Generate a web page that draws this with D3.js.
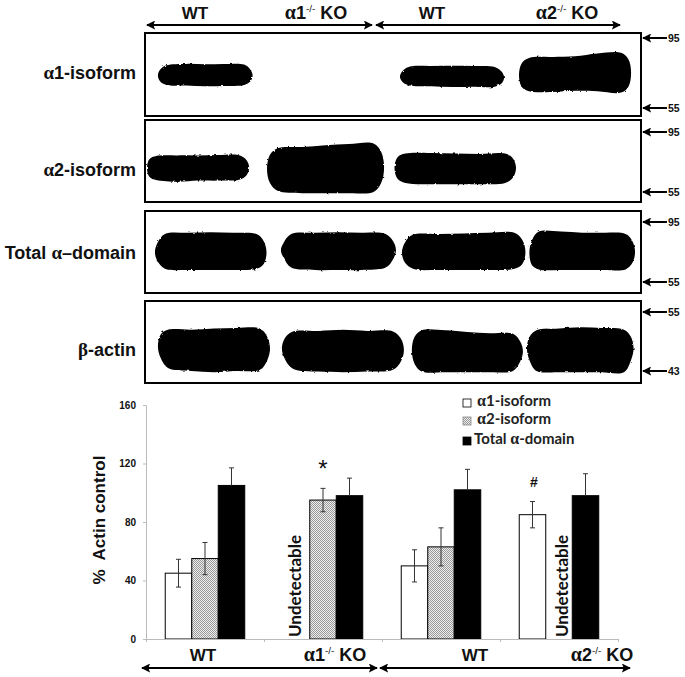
<!DOCTYPE html>
<html>
<head>
<meta charset="utf-8">
<script src="https://cdn.jsdelivr.net/npm/d3@7"></script>
<style>
body { margin: 0; background: #fff; }
svg { display: block; }
text { font-family: "Liberation Sans", Arial, sans-serif; fill: #111; }
.greek { font-family: "Liberation Serif", serif; }
</style>
</head>
<body>
<div class="chart"></div>
<script>
// bar chart values
var groups = ["WT", "a1KO", "WT2", "a2KO"];
var series = ["a1", "a2", "total"];
var seriesNames = ["1-isoform", "2-isoform", "-domain"];
var a1Values = [45, null, 50, 85];
var a2Values = [55, 95, 63, null];
var totalValues = [105, 98, 102, 98];
var a1Errors = [9.5, null, 11, 9];
var a2Errors = [11, 8, 13, null];
var totalErrors = [12, 12, 14, 15];
var yTicks = [0, 40, 80, 120, 160];

// blots: lane start/end in % of gel width, top and bottom edge as migration between the two markers
var panelNames = ["1-isoform", "2-isoform", "Total", "-actin"];
var panelMarkers = [["95", "55"], ["95", "55"], ["95", "55"], ["55", "43"]];
var panel1Blots = [
    [2.6, 21.7, [.45, .39, .37, .375, .37, .38, .45], [.62, .67, .68, .69, .685, .67, .62]],
    [51.4, 72.4, [.47, .41, .40, .395, .40, .415, .48], [.63, .68, .69, .70, .695, .695, .65]],
    [75.4, 98, [.36, .285, .27, .26, .22, .21, .30], [.70, .76, .77, .755, .76, .78, .70]]
];
var panel2Blots = [
    [0.4, 21, [.45, .40, .39, .39, .385, .39, .47], [.75, .80, .83, .81, .81, .79, .72]],
    [24.6, 48.2, [.38, .27, .25, .22, .20, .19, .33], [.85, .98, 1.02, 1.02, 1.02, 1.0, .85]],
    [50.3, 74.8, [.42, .36, .35, .36, .365, .36, .44], [.78, .85, .87, .87, .87, .85, .76]]
];
var panel3Blots = [
    [2, 24.5, [.34, .2, .18, .17, .18, .2, .32], [.66, .78, .8, .8, .8, .78, .7]],
    [27.4, 50.6, [.34, .2, .18, .17, .18, .2, .32], [.6, .76, .8, .8, .8, .76, .62]],
    [51.8, 76.7, [.34, .21, .2, .19, .18, .18, .3], [.68, .78, .8, .8, .8, .78, .7]],
    [77.5, 98.8, [.3, .16, .16, .18, .18, .2, .32], [.72, .79, .8, .8, .8, .79, .68]]
];
var panel4Blots = [
    [2.6, 25.2, [.38, .3, .3, .28, .27, .28, .42], [.78, .95, 1.0, 1.02, 1.0, .98, .82]],
    [27.6, 52.2, [.44, .33, .32, .3, .32, .33, .45], [.8, .96, 1.01, 1.02, 1.01, .98, .84]],
    [53.8, 76.2, [.42, .31, .31, .34, .36, .37, .5], [.88, 1.01, 1.02, 1.02, 1.02, 1.0, .84]],
    [77, 98.5, [.42, .31, .28, .26, .27, .3, .42], [.82, 1.0, 1.02, 1.02, 1.02, 1.02, .82]]
];

var width = 685, height = 677;
var svg = d3.select(".chart").append("svg")
    .attr("width", width)
    .attr("height", height);

var defs = svg.append("defs");

// rough film edge for the bands
var rough = defs.append("filter").attr("id", "rough")
    .attr("x", "-5%").attr("y", "-10%").attr("width", "110%").attr("height", "120%");
rough.append("feTurbulence").attr("type", "fractalNoise").attr("baseFrequency", 0.3)
    .attr("numOctaves", 2).attr("seed", 4).attr("result", "noise");
rough.append("feDisplacementMap").attr("in", "SourceGraphic").attr("in2", "noise")
    .attr("scale", 2.5).attr("result", "moved");
rough.append("feGaussianBlur").attr("in", "moved").attr("stdDeviation", 0.7);

var hatch = defs.append("pattern").attr("id", "hatch").attr("patternUnits", "userSpaceOnUse")
    .attr("width", 2).attr("height", 2);
hatch.append("rect").attr("width", 2).attr("height", 2).attr("fill", "#eee");
hatch.append("rect").attr("width", 1).attr("height", 1).attr("fill", "#999");
hatch.append("rect").attr("x", 1).attr("y", 1).attr("width", 1).attr("height", 1).attr("fill", "#999");

var arrow = defs.append("marker").attr("id", "head").attr("viewBox", "0 0 10 10")
    .attr("refX", 9).attr("refY", 5).attr("markerWidth", 9).attr("markerHeight", 9)
    .attr("markerUnits", "userSpaceOnUse").attr("orient", "auto-start-reverse");
arrow.append("path").attr("d", "M0,0L10,5L0,10L2,5Z").attr("fill", "#000");

function doubleArrow(x1, x2, y, w) {
    svg.append("line")
        .attr("x1", x1).attr("x2", x2).attr("y1", y).attr("y2", y)
        .attr("stroke", "#000").attr("stroke-width", w)
        .attr("marker-start", "url(#head)").attr("marker-end", "url(#head)");
}

// label with a serif alpha and optional knock-out superscript
function groupLabel(x, y, size, first, rest) {
    var t = svg.append("text").attr("x", x).attr("y", y).attr("text-anchor", "middle")
        .attr("font-size", size).attr("font-weight", "bold");
    if (rest) {
        t.append("tspan").attr("class", "greek").attr("font-size", size + 2).text("α");
        t.append("tspan").text(first);
        t.append("tspan").attr("font-size", size * 0.55).attr("dy", -size * 0.4).attr("font-weight", "normal").text("-/-");
        t.append("tspan").attr("dy", size * 0.4).text(" " + rest);
    } else {
        t.text(first);
    }
}

// ---- western blot panels
var gelX = d3.scaleLinear().domain([0, 100]).range([145, 641]);
var panelBoxes = [[33, 116], [120, 202], [211, 293], [301, 383]];
var markerRows = [[38, 108], [132, 192], [222, 282], [312, 371]];
var labelRows = [79, 176, 259, 356];
var allBlots = [panel1Blots, panel2Blots, panel3Blots, panel4Blots];
var stations = [.025, .09, .3, .5, .7, .91, .975];

var bandLine = d3.line().curve(d3.curveCatmullRomClosed.alpha(0.5));

allBlots.forEach(function (blots, i) {
    var migration = d3.scaleLinear().domain([0, 1]).range(markerRows[i]);
    var box = panelBoxes[i];

    blots.forEach(function (b) {
        var x = d3.scaleLinear().domain([0, 1]).range([gelX(b[0]), gelX(b[1])]);
        var pts = [[x(0), migration((b[2][0] + b[3][0]) / 2)]];
        stations.forEach(function (s, k) { pts.push([x(s), migration(b[2][k])]); });
        pts.push([x(1), migration((b[2][6] + b[3][6]) / 2)]);
        stations.slice().reverse().forEach(function (s, k) { pts.push([x(s), migration(b[3][6 - k])]); });
        svg.append("path")
            .attr("d", bandLine(pts))
            .attr("fill", "#050505")
            .attr("filter", "url(#rough)");
    });

    svg.append("rect")
        .attr("x", gelX(0)).attr("y", box[0])
        .attr("width", gelX(100) - gelX(0)).attr("height", box[1] - box[0])
        .attr("fill", "none").attr("stroke", "#000").attr("stroke-width", 2);

    // left label
    var label = svg.append("text").attr("x", 136).attr("y", labelRows[i])
        .attr("text-anchor", "end").attr("font-size", 18).attr("font-weight", "bold");
    if (i < 2) {
        label.append("tspan").attr("class", "greek").attr("font-size", 19).text("α");
        label.append("tspan").text(panelNames[i]);
    } else if (i == 2) {
        label.append("tspan").text("Total ");
        label.append("tspan").attr("class", "greek").attr("font-size", 19).text("α");
        label.append("tspan").text("–domain");
    } else {
        label.append("tspan").attr("class", "greek").attr("font-size", 19).text("β");
        label.append("tspan").text(panelNames[i]);
    }

    // size markers
    panelMarkers[i].forEach(function (m, k) {
        var y = migration(k);
        svg.append("line")
            .attr("x1", 667).attr("x2", 643).attr("y1", y).attr("y2", y)
            .attr("stroke", "#000").attr("stroke-width", 2).attr("marker-end", "url(#head)");
        svg.append("text").attr("x", 668).attr("y", y + 4)
            .attr("font-size", 10.5).attr("font-weight", "bold").text(m);
    });
});

doubleArrow(147, 372, 25, 2);
doubleArrow(376, 620, 25, 2);
groupLabel(195, 19, 17, "WT");
groupLabel(316, 19, 18, "1", "KO");
groupLabel(432, 19, 17, "WT");
groupLabel(567, 19, 18, "2", "KO");

// ---- bar chart
var y = d3.scaleLinear().domain([0, 160]).range([639, 405]);
var x0 = d3.scaleBand().domain(groups).range([146, 618]);
var x1 = d3.scaleBand().domain(series).range([0, x0.bandwidth()]).paddingInner(0).paddingOuter(0.726);
var edges = d3.scaleLinear().domain([0, groups.length]).range([146, 618]);

var seriesValues = { a1: a1Values, a2: a2Values, total: totalValues };
var seriesErrors = { a1: a1Errors, a2: a2Errors, total: totalErrors };
var seriesFill = { a1: "#fff", a2: "url(#hatch)", total: "#000" };

var rows = [];
series.forEach(function (s) {
    groups.forEach(function (g, i) {
        if (seriesValues[s][i] != null) {
            rows.push({ group: g, series: s, value: seriesValues[s][i], err: seriesErrors[s][i] });
        }
    });
});

svg.selectAll(".bar")
    .data(rows)
    .enter()
    .append("rect")
    .attr("class", "bar")
    .attr("x", function (d) { return x0(d.group) + x1(d.series); })
    .attr("y", function (d) { return y(d.value); })
    .attr("width", x1.bandwidth())
    .attr("height", function (d) { return y(0) - y(d.value); })
    .attr("fill", function (d) { return seriesFill[d.series]; })
    .attr("stroke", "#000")
    .attr("stroke-width", 1);

var errG = svg.selectAll(".err")
    .data(rows)
    .enter()
    .append("g")
    .attr("class", "err")
    .attr("stroke", "#333")
    .attr("transform", function (d) {
        return "translate(" + (x0(d.group) + x1(d.series) + x1.bandwidth() / 2) + ",0)";
    });
// black bars hide the lower whisker
function errLow(d) { return d.series == "total" ? d.value : d.value - d.err; }
errG.append("line")
    .attr("y1", function (d) { return y(d.value + d.err); })
    .attr("y2", function (d) { return y(errLow(d)); });
errG.append("line")
    .attr("x1", -2.5).attr("x2", 2.5)
    .attr("y1", function (d) { return y(d.value + d.err); })
    .attr("y2", function (d) { return y(d.value + d.err); });
errG.filter(function (d) { return d.series != "total"; })
    .append("line")
    .attr("x1", -2.5).attr("x2", 2.5)
    .attr("y1", function (d) { return y(d.value - d.err); })
    .attr("y2", function (d) { return y(d.value - d.err); });

var yAxis = svg.append("g")
    .attr("class", "y-axis")
    .attr("transform", "translate(146,0)")
    .call(d3.axisLeft(y).tickValues(yTicks).tickSize(3).tickPadding(7));
yAxis.selectAll("path, line").attr("stroke", "#bbb");
yAxis.selectAll("text").attr("font-size", 10).attr("font-weight", "bold")
    .attr("font-family", "Liberation Sans");

var xAxis = svg.append("g")
    .attr("class", "x-axis")
    .attr("transform", "translate(0,639)")
    .call(d3.axisBottom(edges).tickValues(d3.range(groups.length + 1)).tickFormat("").tickSize(3));
xAxis.selectAll("path, line").attr("stroke", "#bbb");

svg.append("text")
    .attr("transform", "translate(105,520) rotate(-90)")
    .attr("text-anchor", "middle")
    .attr("font-size", 17).attr("font-weight", "bold")
    .attr("xml:space", "preserve")
    .style("white-space", "pre")
    .text("%  Actin control");

function undetectable(g) {
    svg.append("text")
        .attr("transform", "translate(" + g + ",637) rotate(-90)")
        .attr("font-size", 17).attr("font-weight", "bold")
        .style("font-family", "Lato")
        .text("Undetectable");
}
undetectable(301);
undetectable(568);

svg.append("text").attr("x", 323).attr("y", 477).attr("text-anchor", "middle")
    .attr("font-size", 24).text("*");
svg.append("text").attr("x", 534).attr("y", 487).attr("text-anchor", "middle")
    .attr("font-size", 14).attr("font-weight", "bold").text("#");

// legend
var legendRows = [402, 420, 440];
var legendFill = ["#fff", "url(#hatch)", "#000"];
legendRows.forEach(function (ly, i) {
    svg.append("rect")
        .attr("x", 463).attr("y", ly - 3).attr("width", 8).attr("height", 8)
        .attr("fill", legendFill[i]).attr("stroke", i == 1 ? "#888" : "#000").attr("stroke-width", 0.8);
    var t = svg.append("text").attr("x", i == 2 ? 474 : 477).attr("y", ly + 4)
        .attr("font-size", 15).attr("font-weight", "bold")
        .style("font-family", "Lato").style("fill", "#222");
    if (i == 2) {
        t.append("tspan").text("Total ");
    }
    t.append("tspan").attr("class", "greek").attr("font-size", 16).text("α");
    t.append("tspan").text(i == 2 ? seriesNames[2] : seriesNames[i]);
});

groupLabel(203, 661, 17, "WT");
groupLabel(335, 661, 18, "1", "KO");
groupLabel(475, 661, 17, "WT");
groupLabel(602, 661, 18, "2", "KO");
doubleArrow(142, 377, 668, 2);
doubleArrow(380, 630, 668, 2);
</script>
</body>
</html>
